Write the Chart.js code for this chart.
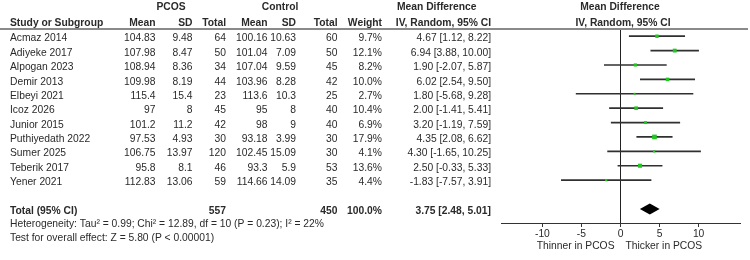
<!DOCTYPE html>
<html>
<head>
<meta charset="utf-8">
<script src="https://cdn.jsdelivr.net/npm/chart.js"></script>
<style>
html,body{margin:0;padding:0;background:#fff;}
#wrap{width:750px;height:260px;}
</style>
</head>
<body>
<div id="wrap"><canvas id="c" width="750" height="260"></canvas></div>
<script>
// ---- data ----
const studies = ["Acmaz 2014","Adiyeke 2017","Alpogan 2023","Demir 2013","Elbeyi 2021","Icoz 2026","Junior 2015","Puthiyedath 2022","Sumer 2025","Teberik 2017","Yener 2021"];
const pcosMean = ["104.83","107.98","108.94","109.98","115.4","97","101.2","97.53","106.75","95.8","112.83"];
const pcosSD   = ["9.48","8.47","8.36","8.19","15.4","8","11.2","4.93","13.97","8.1","13.06"];
const pcosN    = [64,50,34,44,23,45,42,30,120,46,59];
const ctrlMean = ["100.16","101.04","107.04","103.96","113.6","95","98","93.18","102.45","93.3","114.66"];
const ctrlSD   = ["10.63","7.09","9.59","8.28","10.3","8","9","3.99","15.09","5.9","14.09"];
const ctrlN    = [60,50,45,42,25,40,40,30,30,53,35];
const weights  = [9.7,12.1,8.2,10.0,2.7,10.4,6.9,17.9,4.1,13.6,4.4];
const md       = [4.67,6.94,1.90,6.02,1.80,2.00,3.20,4.35,4.30,2.50,-1.83];
const ciLo     = [1.12,3.88,-2.07,2.54,-5.68,-1.41,-1.19,2.08,-1.65,-0.33,-7.57];
const ciHi     = [8.22,10.00,5.87,9.50,9.28,5.41,7.59,6.62,10.25,5.33,3.91];
const totalPcosN = 557;
const totalCtrlN = 450;
const totalWeight = 100.0;
const totalMD = 3.75, totalLo = 2.48, totalHi = 5.01;
const xTicks = [-10,-5,0,5,10];
const hetText = "Heterogeneity: Tau\u00b2 = 0.99; Chi\u00b2 = 12.89, df = 10 (P = 0.23); I\u00b2 = 22%";
const testText = "Test for overall effect: Z = 5.80 (P < 0.00001)";
const leftLabel = "Thinner in PCOS";
const rightLabel = "Thicker in PCOS";

// ---- layout / style ----
const FONT = '"Liberation Sans", Arial, sans-serif';
const FS = 10.3;
const TXT = '#2a2a2a';
const GREEN = '#1ec81e';
const totalRow = 12;
const hetRow = 13;
const testRow = 14;
const col = {study:10, pM:155.5, pSD:192.5, pN:226, cM:267.5, cSD:296, cN:337.5, w:382, ci:491};

function ciStr(m,l,h){return m.toFixed(2)+" ["+l.toFixed(2)+", "+h.toFixed(2)+"]";}

const textPlugin = {
  id:'forestText',
  afterDraw(chart){
    const ctx = chart.ctx;
    const ys = chart.scales.y, xs = chart.scales.x;
    const rowY = r => ys.getPixelForValue(r) + 2.3;
    ctx.save();
    ctx.fillStyle = TXT;
    ctx.textBaseline = 'middle';
    const put = (t,x,y,align,bold) => {
      ctx.font = (bold?'bold ':'') + FS + 'px ' + FONT;
      ctx.textAlign = align;
      ctx.fillText(t,x,y);
    };
    // header row 1
    put("PCOS",171,7,'center',true);
    put("Control",280,7,'center',true);
    put("Mean Difference",397,7,'left',true);
    put("Mean Difference",620,7,'center',true);
    // header row 2
    const h2 = 23;
    put("Study or Subgroup",col.study,h2,'left',true);
    put("Mean",col.pM,h2,'right',true);
    put("SD",col.pSD,h2,'right',true);
    put("Total",col.pN,h2,'right',true);
    put("Mean",col.cM,h2,'right',true);
    put("SD",col.cSD,h2,'right',true);
    put("Total",col.cN,h2,'right',true);
    put("Weight",col.w,h2,'right',true);
    put("IV, Random, 95% CI",col.ci,h2,'right',true);
    put("IV, Random, 95% CI",623,h2,'center',true);
    // header rule
    ctx.strokeStyle = '#8a8a8a';
    ctx.lineWidth = 2;
    ctx.beginPath(); ctx.moveTo(0,29); ctx.lineTo(748,29); ctx.stroke();
    // study rows
    studies.forEach((s,i)=>{
      const y = rowY(i);
      put(s,col.study,y,'left',false);
      put(pcosMean[i],col.pM,y,'right',false);
      put(pcosSD[i],col.pSD,y,'right',false);
      put(String(pcosN[i]),col.pN,y,'right',false);
      put(ctrlMean[i],col.cM,y,'right',false);
      put(ctrlSD[i],col.cSD,y,'right',false);
      put(String(ctrlN[i]),col.cN,y,'right',false);
      put(weights[i].toFixed(1)+"%",col.w,y,'right',false);
      put(ciStr(md[i],ciLo[i],ciHi[i]),col.ci,y,'right',false);
    });
    // total
    const ty = rowY(totalRow);
    put("Total (95% CI)",col.study,ty,'left',true);
    put(String(totalPcosN),col.pN,ty,'right',true);
    put(String(totalCtrlN),col.cN,ty,'right',true);
    put(totalWeight.toFixed(1)+"%",col.w,ty,'right',true);
    put(ciStr(totalMD,totalLo,totalHi),col.ci,ty,'right',true);
    put(hetText,col.study,rowY(hetRow)-1,'left',false);
    put(testText,col.study,rowY(testRow)-1.5,'left',false);
    // diamond
    const dy = ys.getPixelForValue(totalRow);
    ctx.fillStyle = '#000';
    ctx.beginPath();
    ctx.moveTo(xs.getPixelForValue(totalLo),dy);
    ctx.lineTo(xs.getPixelForValue(totalMD),dy-5.5);
    ctx.lineTo(xs.getPixelForValue(totalHi),dy);
    ctx.lineTo(xs.getPixelForValue(totalMD),dy+5.5);
    ctx.closePath(); ctx.fill();
    // axis captions
    ctx.fillStyle = TXT;
    const x0 = xs.getPixelForValue(0);
    put(leftLabel,x0-6,246,'right',false);
    put(rightLabel,x0+5,246,'left',false);
    ctx.restore();
  }
};

const ctx = document.getElementById('c').getContext('2d');
new Chart(ctx,{
  type:'bar',
  data:{
    datasets:[
      {
        type:'scatter',
        order:0,
        data: md.map((m,i)=>({x:m,y:i})),
        pointStyle:'rect',
        pointRadius: weights.map(w=>Math.max(1.4, 0.78*Math.sqrt(w))),
        backgroundColor: GREEN,
        borderWidth:0
      },
      {
        type:'bar',
        order:1,
        data: ciLo.map((l,i)=>({x:[l,ciHi[i]],y:i})),
        backgroundColor:'#303030',
        barThickness:1,
        borderWidth:0
      }
    ]
  },
  options:{
    indexAxis:'y',
    responsive:false,
    animation:false,
    devicePixelRatio:1,
    layout:{autoPadding:false,padding:{left:501,right:10,top:29,bottom:0}},
    plugins:{legend:{display:false},tooltip:{enabled:false}},
    scales:{
      x:{
        type:'linear',
        min:-15.3,max:15.3,
        offset:false,
        afterBuildTicks: s => { s.ticks = xTicks.map(v=>({value:v})); },
        afterFit: s => { s.height = 37; },
        grid:{
          offset:false,
          drawOnChartArea:true,
          color: c => (c.tick && c.tick.value===0) ? '#222' : 'rgba(0,0,0,0)',
          tickColor:'#333',
          tickLength:4,
          lineWidth:1
        },
        border:{display:true,color:'#333',width:1},
        ticks:{
          color:TXT,
          font:{family:FONT,size:FS},
          padding:1,
          maxRotation:0,
          callback: v => String(v)
        }
      },
      y:{
        type:'linear',
        reverse:true,
        offset:false,
        min:-0.5,max:12.98,
        display:false,
        grid:{display:false,offset:false}
      }
    }
  },
  plugins:[textPlugin]
});
</script>
</body>
</html>
